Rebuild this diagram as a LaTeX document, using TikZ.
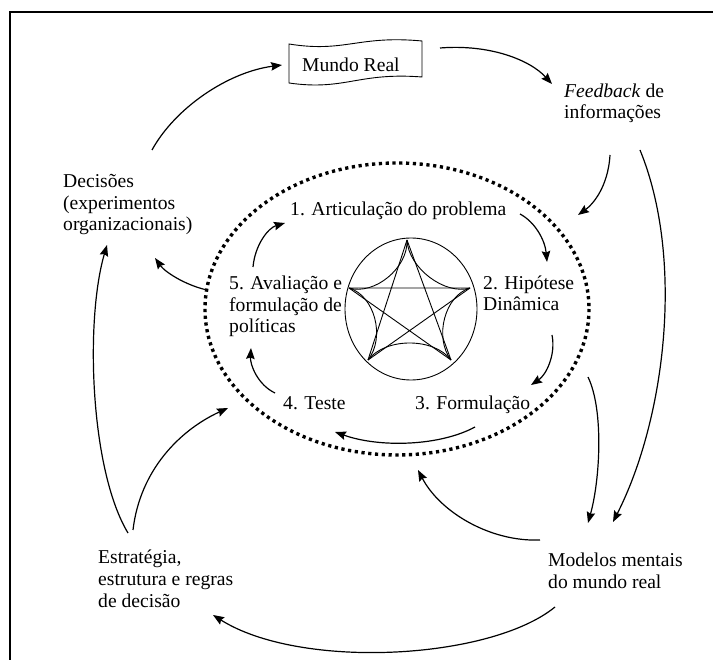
\documentclass[tikz,border=0pt]{standalone}
\usepackage{fontspec}
\setmainfont{Liberation Serif}
\usetikzlibrary{arrows.meta,calc}
\begin{document}
\begin{tikzpicture}[x=1pt,y=-1pt,
  lbl/.style={font=\fontsize{19.6}{21.8}\selectfont, inner sep=0pt, align=left, anchor=base west},
  conn/.style={line width=1.2pt, -{Stealth[length=11pt,width=8.5pt,inset=1.5pt]}},
  thin line/.style={line width=0.9pt}]
\useasboundingbox (0,0) rectangle (713,660);

% page frame
\draw[line width=2pt] (10,665) -- (10,12) -- (720,12);

% labels of the outer loop (multi-line labels sit on their last baseline)
\node[lbl] (mundo) at (302,72) {Mundo Real};
\node[lbl] (feed) at (564,119) {\textit{Feedback} de\\informações};
\node[lbl] (dec) at (63,231) {Decisões\\(experimentos\\organizacionais)};
\node[lbl] (estr) at (98,607) {Estratégia,\\estrutura e regras\\de decisão};
\node[lbl] (mod) at (548,588) {Modelos mentais\\do mundo real};

% labels of the inner cycle
\node[lbl] (s1) at (290,216) {1. Articulação do problema};
\node[lbl] (s2) at (483,311) {2. Hipótese\\Dinâmica};
\node[lbl] (s3) at (415,410) {3. Formulação};
\node[lbl] (s4) at (283,410) {4. Teste};
\node[lbl] (s5) at (229,333) {5. Avaliação e\\formulação de\\políticas};

% banner around "Mundo Real"
\draw[thin line] (289,44) .. controls (345,53) and (358,35) .. (422,41)
  -- (422,77) .. controls (358,72) and (345,91) .. (289,83) -- cycle;

% dotted boundary of the modelling process
\draw[line width=3.4pt, dash pattern=on 3.2pt off 3.6pt] (397,309) ellipse [x radius=192, y radius=146];

% pentagram inside its circle
\draw[thin line] (411,309) ellipse [x radius=66, y radius=71];
\coordinate (C) at (410,306);
\coordinate (T) at (407,240);
\coordinate (L) at (349,288);
\coordinate (R) at (470,288);
\coordinate (BL) at (368,360);
\coordinate (BR) at (451,360);
\draw[thin line] (T) -- (BL) (T) -- (BR) (L) -- (R) (L) -- (BR) (R) -- (BL);
\foreach \a/\b in {T/L, T/R, L/BL, R/BR, BL/BR}
  \draw[thin line] (\a) .. controls ($(\a)!0.42!(C)$) and ($(\b)!0.42!(C)$) .. (\b);

% connector end points
\coordinate (dec-up) at (152,150);
\coordinate (mundo-in) at (282,65);
\coordinate (mundo-out) at (440,48);
\coordinate (feed-in) at (552,84);
\coordinate (feed-out1) at (610,155);
\coordinate (ell-tr) at (578,215);
\coordinate (feed-out2) at (640,150);
\coordinate (mod-in1) at (613,522);
\coordinate (ell-r) at (588,377);
\coordinate (mod-in2) at (588,523);
\coordinate (mod-out1) at (540,540);
\coordinate (ell-b) at (418,470);
\coordinate (mod-out2) at (555,607);
\coordinate (estr-in) at (213,615);
\coordinate (estr-out1) at (128,533);
\coordinate (dec-in1) at (107,245);
\coordinate (estr-out2) at (133,530);
\coordinate (ell-bl) at (228,408);
\coordinate (ell-l) at (207,290);
\coordinate (dec-in2) at (155,258);

% outer loop
\draw[conn] (dec-up) .. controls (175,108) and (228,72) .. (mundo-in);
\draw[conn] (mundo-out) .. controls (490,44) and (530,60) .. (feed-in);
\draw[conn] (feed-out1) .. controls (608,188) and (592,205) .. (ell-tr);
\draw[conn] (feed-out2) .. controls (685,260) and (665,420) .. (mod-in1);
\draw[conn] (ell-r) .. controls (604,410) and (600,480) .. (mod-in2);
\draw[conn] (mod-out1) .. controls (490,542) and (440,512) .. (ell-b);
\draw[conn] (mod-out2) .. controls (490,660) and (300,670) .. (estr-in);
\draw[conn] (estr-out1) .. controls (90,470) and (85,320) .. (dec-in1);
\draw[conn] (estr-out2) .. controls (140,470) and (180,430) .. (ell-bl);
\draw[conn] (ell-l) .. controls (185,285) and (165,272) .. (dec-in2);

% inner cycle
\coordinate (s5-out) at (253,267);
\coordinate (s1-in) at (285,223);
\coordinate (s1-out) at (520,214);
\coordinate (s2-in) at (547,262);
\coordinate (s2-out) at (552,335);
\coordinate (s3-in) at (531,385);
\coordinate (s3-out) at (475,427);
\coordinate (s4-in) at (335,432);
\coordinate (s4-out) at (275,393);
\coordinate (s5-in) at (251,348);
\draw[conn] (s5-out) .. controls (255,245) and (268,228) .. (s1-in);
\draw[conn] (s1-out) .. controls (535,222) and (545,240) .. (s2-in);
\draw[conn] (s2-out) .. controls (556,355) and (546,375) .. (s3-in);
\draw[conn] (s3-out) .. controls (440,446) and (380,448) .. (s4-in);
\draw[conn] (s4-out) .. controls (258,385) and (250,365) .. (s5-in);
\end{tikzpicture}
\end{document}
